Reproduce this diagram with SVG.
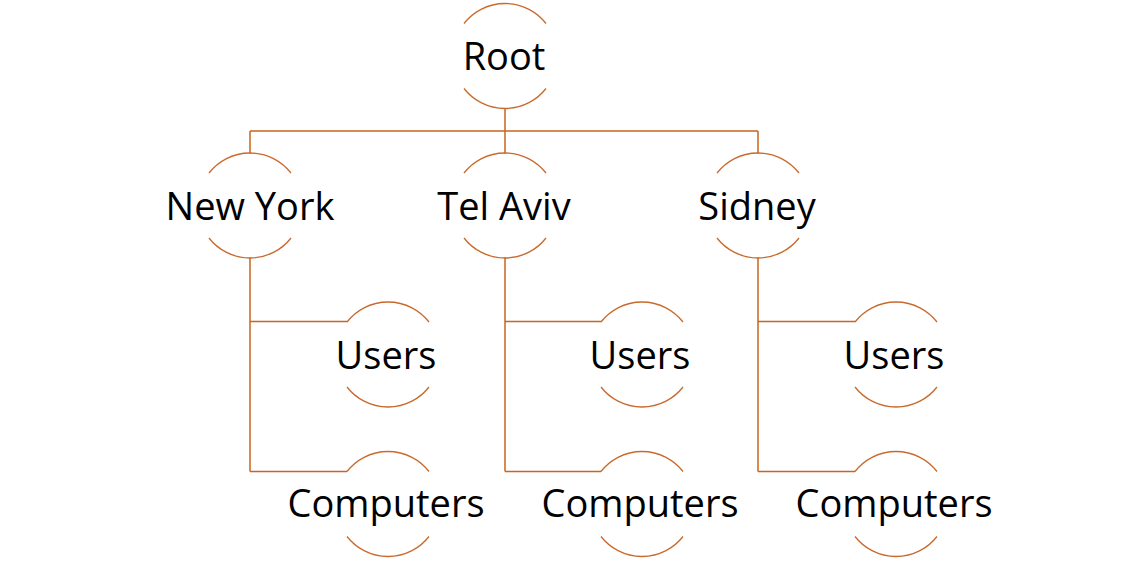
<svg xmlns="http://www.w3.org/2000/svg" xmlns:xlink="http://www.w3.org/1999/xlink" width="1144" height="561" viewBox="0 0 1144 561">
<style>
.arc{fill:none;stroke:#C96A2D;stroke-width:1.3}
.ln{fill:none;stroke:#C8661F;stroke-width:1.5}
text{font-family:"Open Sans","DejaVu Sans",sans-serif;font-size:38px;fill:#000;text-anchor:middle}
</style>
<defs>
<path id="circ" d="M-41,-32.5 A52,52 0 0 1 41,-32.5 M-41,32.5 A52,52 0 0 0 41,32.5"/>
</defs>
<rect width="1144" height="561" fill="#fff"/>
<g id="connectors" class="ln">
<path d="M505,108V131M250,131H758M250,131V153.5M505,131V153.5M758,131V153.5"/>
<path d="M250,257.5V471.5M250,321.5H347M250,471.5H347"/>
<path d="M505,257.5V471.5M505,321.5H601M505,471.5H601"/>
<path d="M758,257.5V471.5M758,321.5H855M758,471.5H855"/>
</g>
<g id="root" transform="translate(505,56)"><use xlink:href="#circ" class="arc"/><text x="-1" y="14">Root</text></g>
<g id="newyork" transform="translate(250,205.5)"><use xlink:href="#circ" class="arc"/><text x="0" y="14">New York</text></g>
<g id="telaviv" transform="translate(505,205.5)"><use xlink:href="#circ" class="arc"/><text x="-1" y="14">Tel Aviv</text></g>
<g id="sidney" transform="translate(758,205.5)"><use xlink:href="#circ" class="arc"/><text x="-1" y="14">Sidney</text></g>
<g id="ny-users" transform="translate(388,354.5)"><use xlink:href="#circ" class="arc"/><text x="-2" y="14">Users</text></g>
<g id="ny-computers" transform="translate(388,504)"><use xlink:href="#circ" class="arc"/><text x="-2" y="13">Computers</text></g>
<g id="ta-users" transform="translate(642,354.5)"><use xlink:href="#circ" class="arc"/><text x="-2" y="14">Users</text></g>
<g id="ta-computers" transform="translate(642,504)"><use xlink:href="#circ" class="arc"/><text x="-2" y="13">Computers</text></g>
<g id="sd-users" transform="translate(896,354.5)"><use xlink:href="#circ" class="arc"/><text x="-2" y="14">Users</text></g>
<g id="sd-computers" transform="translate(896,504)"><use xlink:href="#circ" class="arc"/><text x="-2" y="13">Computers</text></g>
</svg>
